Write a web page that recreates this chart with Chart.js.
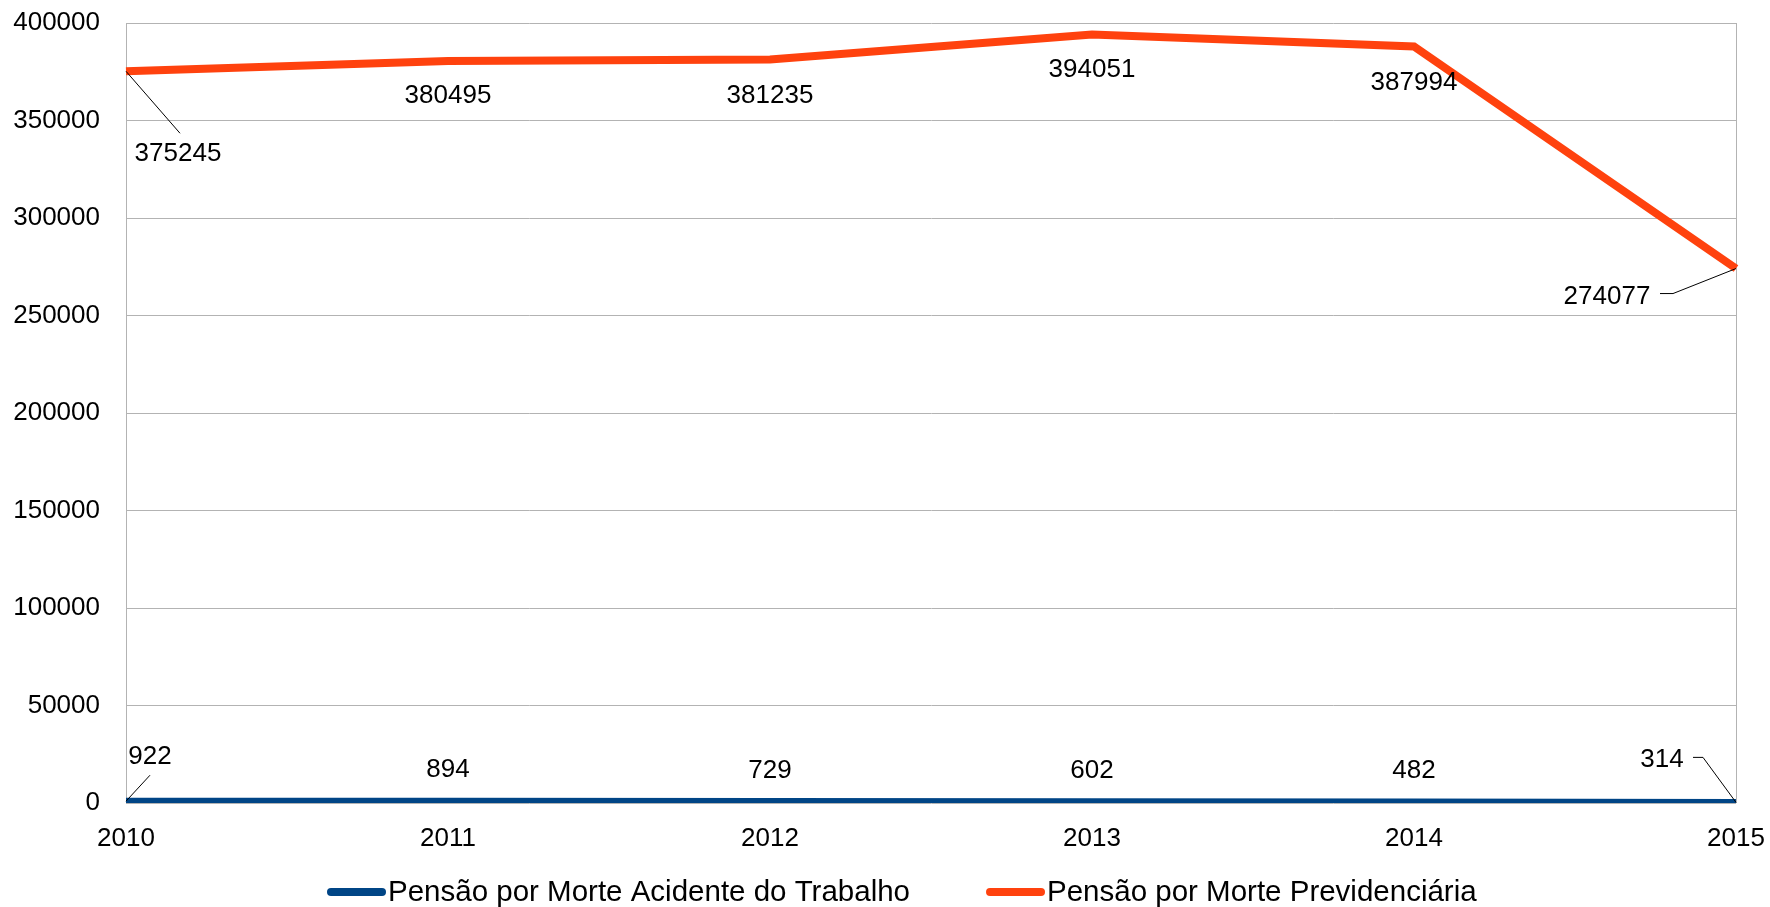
<!DOCTYPE html>
<html>
<head>
<meta charset="utf-8">
<script src="https://cdn.jsdelivr.net/npm/chart.js@4/dist/chart.umd.min.js"></script>
<style>
  html, body { margin: 0; padding: 0; background: #fff; }
  #box { width: 1770px; height: 907px; }
</style>
</head>
<body>
<div id="box"><canvas id="grafico" width="1770" height="907"></canvas></div>
<script>
// dados
const anos = ["2010", "2011", "2012", "2013", "2014", "2015"];
const acidenteTrabalho = [922, 894, 729, 602, 482, 314];
const previdenciaria = [375245, 380495, 381235, 394051, 387994, 274077];
const ticksY = [0, 50000, 100000, 150000, 200000, 250000, 300000, 350000, 400000];

const nomes = ["Pensão por Morte Acidente do Trabalho", "Pensão por Morte Previdenciária"];
const cores = ["#004586", "#ff420e"];

// deslocamento dos rótulos em relação ao ponto (centro do texto) e linhas de chamada
const rotulosAzul = [
    { dx: 24, dy: -45, guia: [[0, 0], [24, -26]] },
    { dx: 0, dy: -32 },
    { dx: 0, dy: -32 },
    { dx: 0, dy: -32 },
    { dx: 0, dy: -32 },
    { dx: -74, dy: -44, guia: [[-43, -45], [-33, -45], [0, 0]] }
];
const rotulosLaranja = [
    { dx: 52, dy: 82, guia: [[0, 0], [54, 62]] },
    { dx: 0, dy: 34 },
    { dx: 0, dy: 35 },
    { dx: 0, dy: 34 },
    { dx: 0, dy: 35 },
    { dx: -129, dy: 27, guia: [[-76, 25], [-63, 25], [0, 0]] }
];

const fonte = "Liberation Sans, Arial, sans-serif";

const pluginRotulos = {
    id: "rotulos",
    afterDatasetsDraw(chart) {
        const ctx = chart.ctx;
        const todos = [rotulosAzul, rotulosLaranja];
        ctx.save();
        ctx.font = "26px " + fonte;
        ctx.textAlign = "center";
        ctx.textBaseline = "middle";
        chart.data.datasets.forEach((ds, d) => {
            const meta = chart.getDatasetMeta(d);
            meta.data.forEach((p, i) => {
                const r = todos[d][i];
                if (r.guia) {
                    ctx.strokeStyle = "#000";
                    ctx.lineWidth = 1;
                    ctx.beginPath();
                    r.guia.forEach((g, k) => {
                        if (k === 0) ctx.moveTo(p.x + g[0], p.y + g[1]);
                        else ctx.lineTo(p.x + g[0], p.y + g[1]);
                    });
                    ctx.stroke();
                }
                ctx.fillStyle = "#000";
                ctx.fillText(String(ds.data[i]), p.x + r.dx, p.y + r.dy + 1);
            });
        });
        ctx.restore();
    }
};

const pluginLegenda = {
    id: "legendaPropria",
    afterDraw(chart) {
        const ctx = chart.ctx;
        ctx.save();
        ctx.font = "29.5px " + fonte;
        ctx.textBaseline = "middle";
        ctx.textAlign = "left";
        const y = 892;
        let x = 331;
        nomes.forEach((nome, i) => {
            ctx.strokeStyle = cores[i];
            ctx.lineWidth = 8;
            ctx.lineCap = "round";
            ctx.beginPath();
            ctx.moveTo(x, y);
            ctx.lineTo(x + 51, y);
            ctx.stroke();
            ctx.fillStyle = "#000";
            ctx.fillText(nome, x + 57, y + 1);
            x += 57 + ctx.measureText(nome).width + 80;
        });
        ctx.restore();
    }
};

const ctx = document.getElementById("grafico").getContext("2d");

new Chart(ctx, {
    type: "line",
    data: {
        labels: anos,
        datasets: [
            {
                label: nomes[0],
                data: acidenteTrabalho,
                borderColor: cores[0],
                backgroundColor: cores[0],
                borderWidth: 7,
                pointRadius: 0,
                tension: 0
            },
            {
                label: nomes[1],
                data: previdenciaria,
                borderColor: cores[1],
                backgroundColor: cores[1],
                borderWidth: 8,
                pointRadius: 0,
                tension: 0
            }
        ]
    },
    options: {
        responsive: false,
        animation: false,
        layout: { padding: { left: 0, right: 34, top: 23, bottom: 0 } },
        plugins: {
            legend: { display: false },
            tooltip: { enabled: false }
        },
        scales: {
            x: {
                grid: {
                    drawTicks: false,
                    color: c => (c.index === 0 || c.index === anos.length - 1) ? "#b3b3b3" : "rgba(0,0,0,0)"
                },
                border: { display: false },
                ticks: {
                    color: "#000",
                    font: { family: fonte, size: 26 },
                    padding: 20,
                    maxRotation: 0
                },
                afterFit: s => {
                    s.height = 104;
                    s.paddingLeft = 0;
                    s.paddingRight = 0;
                }
            },
            y: {
                min: 0,
                max: 400000,
                afterBuildTicks: s => { s.ticks = ticksY.map(v => ({ value: v })); },
                grid: { drawTicks: false, color: "#b3b3b3" },
                border: { display: true, color: "#b3b3b3" },
                ticks: {
                    color: "#000",
                    font: { family: fonte, size: 26 },
                    padding: 26,
                    callback: v => String(v)
                },
                afterFit: s => {
                    s.width = 126;
                    s.paddingTop = 0;
                    s.paddingBottom = 0;
                }
            }
        }
    },
    plugins: [pluginRotulos, pluginLegenda]
});
</script>
</body>
</html>
